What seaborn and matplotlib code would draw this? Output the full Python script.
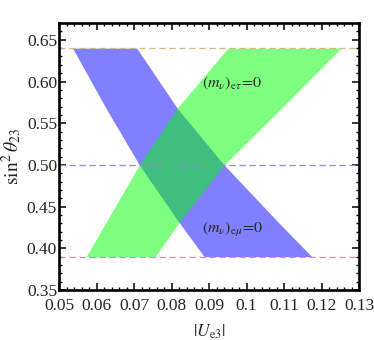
import matplotlib
matplotlib.use("Agg")
import matplotlib.pyplot as plt
import seaborn as sns
import numpy as np
from matplotlib.ticker import MultipleLocator, FixedLocator

# y levels at which the band edges were read
y_levels = [0.39, 0.431, 0.50, 0.568, 0.64]
# (m_nu)_e-mu = 0 band (blue)
emu_left = [0.0887, 0.0820, 0.0714, 0.0625, 0.0536]
emu_right = [0.1174, 0.1085, 0.0940, 0.0815, 0.0707]
# (m_nu)_e-tau = 0 band (green)
etau_left = [0.0572, 0.0625, 0.0714, 0.0815, 0.0950]
etau_right = [0.0756, 0.0820, 0.0940, 0.1093, 0.1252]

ref_levels = [0.64, 0.50, 0.39]
ref_colors = ["#cdb985", "#8a8ae0", "#d58fb0"]

xticks = [0.05, 0.06, 0.07, 0.08, 0.09, 0.10, 0.11, 0.12, 0.13]
xtick_labels = ["0.05", "0.06", "0.07", "0.08", "0.09", "0.1", "0.11", "0.12", "0.13"]
yticks = [0.35, 0.40, 0.45, 0.50, 0.55, 0.60, 0.65]
ytick_labels = ["0.35", "0.40", "0.45", "0.50", "0.55", "0.60", "0.65"]

sns.set_style("ticks")
plt.rcParams['font.family'] = ['Liberation Serif', 'DejaVu Serif']
plt.rcParams['mathtext.fontset'] = 'stix'

fig = plt.figure(figsize=(3.74, 3.40), dpi=100)
ax = fig.add_axes([0.158, 0.147, 0.802, 0.785])

ax.fill_betweenx(y_levels, emu_left, emu_right, color=(0, 0, 1), alpha=0.5, linewidth=0)
ax.fill_betweenx(y_levels, etau_left, etau_right, color=(0, 1, 0), alpha=0.5, linewidth=0)

for lev, col in zip(ref_levels, ref_colors):
    ax.axhline(lev, color=col, lw=0.9, ls=(0, (5, 3)))

ax.set_xlim(0.05, 0.13)
ax.set_ylim(0.35, 0.67)

ax.xaxis.set_major_locator(FixedLocator(xticks))
ax.set_xticklabels(xtick_labels)
ax.xaxis.set_minor_locator(MultipleLocator(0.002))
ax.yaxis.set_major_locator(FixedLocator(yticks))
ax.set_yticklabels(ytick_labels)
ax.yaxis.set_minor_locator(MultipleLocator(0.01))

ax.tick_params(which='both', direction='in', top=True, right=True, labelsize=12.5, color='black')
ax.tick_params(which='major', length=5, width=1.1)
ax.tick_params(which='minor', length=2.5, width=1.0)
ax.tick_params(axis='x', which='major', pad=6)
ax.tick_params(axis='y', which='major', pad=1.5)
for s in ax.spines.values():
    s.set_linewidth(1.9)
    s.set_color('black')

ax.set_xlabel(r"$|U_{\mathrm{e3}}|$", fontsize=12.5, labelpad=6)
ax.set_ylabel(r"$\mathrm{sin}^2\,\theta_{23}$", fontsize=14, labelpad=2)

ax.text(0.0881, 0.598, r"$(m_\nu)_{\mathrm{e}\tau}\!=\!0$", fontsize=11.5, va='center', ha='left')
ax.text(0.0881, 0.422, r"$(m_\nu)_{\mathrm{e}\mu}\!=\!0$", fontsize=11.5, va='center', ha='left')

fig.savefig("out.png", dpi=100)
